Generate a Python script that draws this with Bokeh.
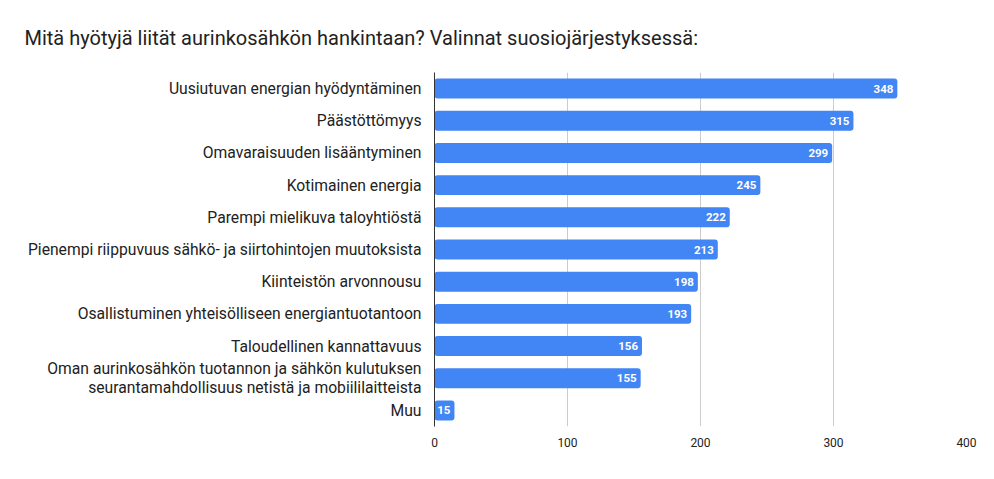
from bokeh.plotting import figure
from bokeh.models import ColumnDataSource, FactorRange, Range1d, FixedTicker
from bokeh.embed import file_html
from bokeh.resources import INLINE
from bokeh.core.properties import value

title_text = "Mitä hyötyjä liität aurinkosähkön hankintaan? Valinnat suosiojärjestyksessä:"
categories = [
    "Uusiutuvan energian hyödyntäminen",
    "Päästöttömyys",
    "Omavaraisuuden lisääntyminen",
    "Kotimainen energia",
    "Parempi mielikuva taloyhtiöstä",
    "Pienempi riippuvuus sähkö- ja siirtohintojen muutoksista",
    "Kiinteistön arvonnousu",
    "Osallistuminen yhteisölliseen energiantuotantoon",
    "Taloudellinen kannattavuus",
    "Oman aurinkosähkön tuotannon ja sähkön kulutuksen\nseurantamahdollisuus netistä ja mobiililaitteista",
    "Muu",
]
values = [348, 315, 299, 245, 222, 213, 198, 193, 156, 155, 15]
x_ticks = [0, 100, 200, 300, 400]

src = ColumnDataSource(dict(cat=categories, val=values, lab=[str(v) for v in values]))

p = figure(
    width=994, height=479,
    y_range=FactorRange(*reversed(categories)),
    x_range=Range1d(0, 400),
    output_backend="svg", toolbar_location=None,
    min_border_left=434, min_border_right=28, min_border_top=71, min_border_bottom=53,
    title=title_text,
)
p.outline_line_color = None
p.background_fill_color = "white"
p.border_fill_color = "white"

p.title.align = "left"
p.title.offset = -410
p.title.standoff = 46
p.title.text_font = "Roboto"
p.title.text_font_size = "20px"
p.title.text_font_style = "normal"
p.title.text_color = "#222222"

p.hbar(y="cat", right="val", left=0, height=0.62, source=src,
       fill_color="#4285F4", line_color=None, border_radius=3)
p.text(x="val", y="cat", text="lab", source=src, x_offset=-4,
       text_align="right", text_baseline="middle", text_color="white",
       text_font=value("Roboto"), text_font_style="bold", text_font_size="11.5px")

p.xgrid.ticker = FixedTicker(ticks=x_ticks)
p.xgrid.grid_line_color = "#cccccc"
p.ygrid.grid_line_color = None

p.xaxis.ticker = FixedTicker(ticks=x_ticks)
p.xaxis.axis_line_color = None
p.xaxis.major_tick_line_color = None
p.xaxis.minor_tick_line_color = None
p.xaxis.major_label_text_font = "Roboto"
p.xaxis.major_label_text_font_size = "12px"
p.xaxis.major_label_text_color = "#222222"
p.xaxis.major_label_standoff = 5

p.yaxis.axis_line_color = "#333333"
p.yaxis.major_tick_line_color = None
p.yaxis.minor_tick_line_color = None
p.yaxis.major_label_text_font = "Roboto"
p.yaxis.major_label_text_font_size = "15.7px"
p.yaxis.major_label_text_color = "#222222"
p.yaxis.major_label_text_line_height = 1.0
p.yaxis.major_label_standoff = 7

open("out.html", "w").write(file_html(p, INLINE))
